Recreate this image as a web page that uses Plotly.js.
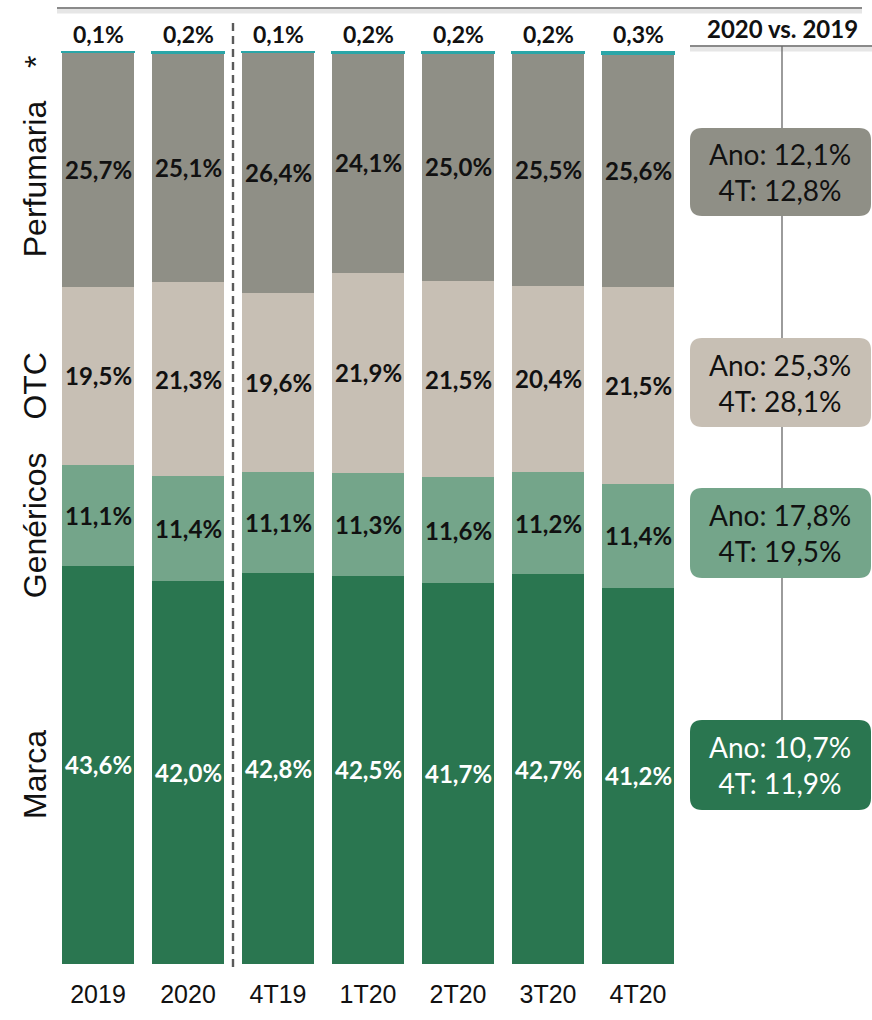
<!DOCTYPE html>
<html>
<head>
<meta charset="utf-8">
<script src="https://cdn.plot.ly/plotly-3.0.1.min.js"></script>
<style>html,body{margin:0;padding:0;background:#fff;}#chart{width:872px;height:1020px;}</style>
</head>
<body>
<div id="chart"></div>
<script>
// ---- data ----
const periods = ['2019', '2020', '4T19', '1T20', '2T20', '3T20', '4T20'];
const marca      = [43.6, 42.0, 42.8, 42.5, 41.7, 42.7, 41.2];
const genericos  = [11.1, 11.4, 11.1, 11.3, 11.6, 11.2, 11.4];
const otc        = [19.5, 21.3, 19.6, 21.9, 21.5, 20.4, 21.5];
const perfumaria = [25.7, 25.1, 26.4, 24.1, 25.0, 25.5, 25.6];
const outros     = [0.1, 0.2, 0.1, 0.2, 0.2, 0.2, 0.3];
const segmentNames = ['Marca', 'Genéricos', 'OTC', 'Perfumaria', '*'];
// 2020 vs. 2019 growth (Ano / 4T) for Marca, Genéricos, OTC, Perfumaria
const growthAno = [10.7, 17.8, 25.3, 12.1];
const growth4T  = [11.9, 19.5, 28.1, 12.8];

const colors = ['#2a7650', '#74a58a', '#c7bfb4', '#8f8f86', '#2aa6a8'];
const labelColors = ['#ffffff', '#111111', '#111111', '#111111', '#111111'];
const boxTextColors = ['#ffffff', '#111111', '#111111', '#111111'];

const series = [marca, genericos, otc, perfumaria, outros];
const fmt = v => v.toFixed(1).replace('.', ',') + '%';
const idx = periods.map((p, j) => j);

// ---- geometry helpers (layout only) ----
const W = 872, H = 1020;
const M = {l: 53, r: 189, t: 51, b: 56};
const pw = W - M.l - M.r, ph = H - M.t - M.b;
const px = x => (x - M.l) / pw;
const py = y => (H - M.b - y) / ph;

const traces = series.map((vals, i) => ({
  type: 'bar',
  name: segmentNames[i],
  x: idx,
  y: vals,
  marker: {color: colors[i], line: {width: i === 4 ? 2 : 0, color: colors[i]}},
  hoverinfo: 'skip'
}));

const annotations = [];
// value labels inside segments
idx.forEach(j => {
  let cum = 0;
  for (let i = 0; i < 4; i++) {
    const v = series[i][j];
    annotations.push({
      x: j, y: cum + v / 2, xref: 'x', yref: 'y', xanchor: 'center', yanchor: 'middle',
      text: fmt(v), showarrow: false,
      font: {family: 'Lato, sans-serif', size: 24, color: labelColors[i], weight: 'bold'}
    });
    cum += v;
  }
  cum = Math.min(Math.round((cum + outros[j]) * 10) / 10, 100);
  annotations.push({
    x: j, y: cum, xref: 'x', yref: 'y', xanchor: 'center', yanchor: 'bottom', yshift: 1,
    text: fmt(outros[j]), showarrow: false,
    font: {family: 'Lato, sans-serif', size: 23, color: '#111', weight: 'bold'}
  });
});

// left category labels (positioned at 2019 segment centres)
let c0 = 0;
for (let i = 0; i < 4; i++) {
  const v = series[i][0];
  annotations.push({
    x: px(35), y: c0 + v / 2, xref: 'paper', yref: 'y', xanchor: 'center', yanchor: 'middle', yshift: -10,
    text: segmentNames[i], textangle: -90, showarrow: false,
    font: {family: 'Liberation Sans, Arial, sans-serif', size: 32, color: '#111'}
  });
  c0 += v;
}
annotations.push({
  x: px(36), y: py(62), xref: 'paper', yref: 'paper', xanchor: 'center', yanchor: 'middle',
  text: '*', textangle: -90, showarrow: false,
  font: {family: 'Liberation Sans, Arial, sans-serif', size: 32, color: '#111'}
});

// right header
annotations.push({
  x: px(782), y: py(29), xref: 'paper', yref: 'paper', xanchor: 'center', yanchor: 'middle',
  text: '2020 vs. 2019', showarrow: false,
  font: {family: 'Lato, sans-serif', size: 24, color: '#111', weight: 'bold'}
});

const shapes = [];
// top rule with soft shadow
shapes.push({type: 'line', xref: 'paper', yref: 'paper', x0: px(57), x1: px(862), y0: py(11), y1: py(11), line: {color: '#e6e6e6', width: 5}});
shapes.push({type: 'line', xref: 'paper', yref: 'paper', x0: px(57), x1: px(862), y0: py(8), y1: py(8), line: {color: '#8a8a8a', width: 2}});
// header rule with shadow
shapes.push({type: 'line', xref: 'paper', yref: 'paper', x0: px(690), x1: px(872), y0: py(49), y1: py(49), line: {color: '#e6e6e6', width: 5}});
shapes.push({type: 'line', xref: 'paper', yref: 'paper', x0: px(690), x1: px(872), y0: py(46), y1: py(46), line: {color: '#8a8a8a', width: 2}});
// vertical connector
shapes.push({type: 'line', xref: 'paper', yref: 'paper', x0: px(782), x1: px(782), y0: py(46), y1: py(722), line: {color: '#666', width: 1.3}});
// dashed separator between annual and quarterly
shapes.push({type: 'line', xref: 'x', yref: 'paper', x0: 1.5, x1: 1.5, y0: py(23), y1: py(968), line: {color: '#5a5a5a', width: 2.4, dash: '8px,5px'}});

// growth boxes (rounded) – tops/bottoms in px for Marca, Genéricos, OTC, Perfumaria
const boxY = [[720, 810], [488, 578], [338, 427], [128, 216]];
const bx0 = 690, bx1 = 871, r = 12;
function roundRect(x0, y0, x1, y1, rr) {
  const X = v => px(v), Y = v => py(v);
  return `M ${X(x0 + rr)},${Y(y0)} L ${X(x1 - rr)},${Y(y0)} Q ${X(x1)},${Y(y0)} ${X(x1)},${Y(y0 + rr)} ` +
         `L ${X(x1)},${Y(y1 - rr)} Q ${X(x1)},${Y(y1)} ${X(x1 - rr)},${Y(y1)} ` +
         `L ${X(x0 + rr)},${Y(y1)} Q ${X(x0)},${Y(y1)} ${X(x0)},${Y(y1 - rr)} ` +
         `L ${X(x0)},${Y(y0 + rr)} Q ${X(x0)},${Y(y0)} ${X(x0 + rr)},${Y(y0)} Z`;
}
growthAno.forEach((g, i) => {
  const [t, b] = boxY[i];
  shapes.push({type: 'path', xref: 'paper', yref: 'paper', path: roundRect(bx0, t, bx1, b, r),
    fillcolor: colors[i], line: {width: 0}});
  annotations.push({
    x: px((bx0 + bx1) / 2), y: py((t + b) / 2), xref: 'paper', yref: 'paper',
    xanchor: 'center', yanchor: 'middle',
    text: 'Ano: ' + fmt(g) + '<br>4T: ' + fmt(growth4T[i]), showarrow: false,
    font: {family: 'Lato, sans-serif', size: 28, color: boxTextColors[i]}
  });
});

const layout = {
  width: W, height: H,
  margin: M,
  barmode: 'stack',
  bargap: 0.2,
  showlegend: false,
  paper_bgcolor: '#fff', plot_bgcolor: '#fff',
  xaxis: {
    type: 'linear', range: [-0.5, 6.5], fixedrange: true,
    tickmode: 'array', tickvals: idx, ticktext: periods,
    showgrid: false, zeroline: false, showline: false, ticks: '',
    ticklabelstandoff: 13,
    tickfont: {family: 'Liberation Sans, Arial, sans-serif', size: 25, color: '#111'}
  },
  yaxis: {range: [0, 100], visible: false, fixedrange: true},
  annotations: annotations,
  shapes: shapes
};

Plotly.newPlot('chart', traces, layout, {staticPlot: true, displayModeBar: false});
</script>
</body>
</html>
